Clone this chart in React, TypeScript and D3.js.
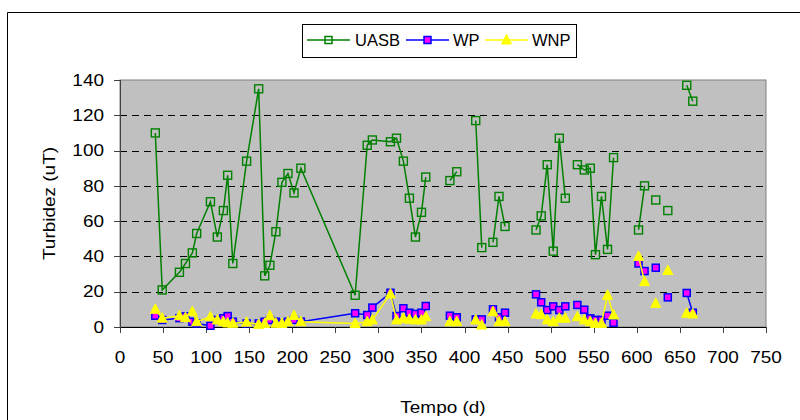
import React from "react";
import * as d3 from "d3";

// Shared day column (null = empty row, breaks the lines)
const days: (number | null)[] = [
  41, 49, 69, 76, 84, 89, 105, 113, 120, 125, 131, 147, 161, 168, 174, 181, 188, 195, 202, 210,
  273, 287, 293, 314, 321, 329, 336, 343, 350, 355, null,
  383, 391, null,
  413, 420, null,
  433, 440, 447, null,
  483, 489, 496, 503, 510, 517, null,
  531, 539, 546, 552, 559, 566, 573, null,
  602, 609, null,
  622, null,
  636, null,
  658, 665,
];

const uasb: (number | null)[] = [
  110, 21, 31, 36, 42, 53, 71, 51, 66, 86, 36, 94, 135, 29, 35, 54, 82, 87, 76, 90,
  18, 103, 106, 105, 107, 94, 73, 51, 65, 85, null,
  83, 88, null,
  117, 45, null,
  48, 74, 57, null,
  55, 63, 92, 43, 107, 73, null,
  92, 89, 90, 41, 74, 44, 96, null,
  55, 80, null,
  72, null,
  66, null,
  137, 128,
];

const wp: (number | null)[] = [
  6.4, 4, 5, 6, 3, 2, 0.7, 4, 5, 6.2, 3, 2, 2, 3, 4, 3, 2, 3, 4, 3,
  7.8, 6.8, 11, 19.4, 6.2, 10.6, 8.1, 7.4, 8.1, 11.9, null,
  6.4, 5.5, null,
  4.3, 4.3, null,
  10, 5.5, 8.1, null,
  18.5, 14, 9.6, 11.7, 9.6, 11.7, null,
  12.5, 9.8, 4.9, 4, 4, 6.4, 2.4, null,
  36, 31.7, null,
  33.6, null,
  16.8, null,
  19.3, 8.1,
];

const wnp: (number | null)[] = [
  10, 5, 6.4, 5.3, 8.7, 3, 5.8, 4, 3, 2.3, 2.1, 2.7, 1.5, 2, 6.4, 2.1, 2, 3, 6.5, 3,
  2, 3, 4, 18.7, 4, 5, 4.4, 4, 4, 5.8, null,
  3, 3, null,
  4, 1.1, null,
  8.7, 3, 3, null,
  7.4, 7, 4, 3, 5, 5, null,
  5.8, 4, 3, 2, 2, 18, 6.8, null,
  40, 25.7, null,
  13.4, null,
  32, null,
  7.8, 7.4,
];

const xTicks = d3.range(0, 751, 50);
const yTicks = d3.range(0, 141, 20);
const seriesNames = ["UASB", "WP", "WNP"];

const W = 800;
const H = 420;
const plot = { left: 120, right: 766, top: 80, bottom: 327 };
const FONT = "Liberation Sans, Arial, sans-serif";
const AX_FS = 16.5;
const STRETCH = 1.15;

type Pt = { x: number | null; y: number | null };

function toPts(vals: (number | null)[]): Pt[] {
  return days.map((d, i) => ({ x: d, y: vals[i] }));
}

export default function App() {
  const x = d3.scaleLinear().domain([0, 750]).range([plot.left, plot.right]);
  const y = d3.scaleLinear().domain([0, 140]).range([plot.bottom, plot.top]);

  const line = d3
    .line<Pt>()
    .defined((p) => p.x != null && p.y != null)
    .x((p) => x(p.x as number))
    .y((p) => y(p.y as number));

  const uPts = toPts(uasb);
  const pPts = toPts(wp);
  const nPts = toPts(wnp);
  const valid = (p: Pt) => p.x != null && p.y != null;

  const tri = (cx: number, cy: number, s: number) =>
    `M${cx},${cy - s * 0.55}L${cx + s / 2},${cy + s * 0.4}L${cx - s / 2},${cy + s * 0.4}Z`;

  const legendY = 40;
  const legendItems = [
    { name: seriesNames[0], x0: 307, text: 355 },
    { name: seriesNames[1], x0: 406, text: 453 },
    { name: seriesNames[2], x0: 485, text: 532 },
  ];

  return (
    <svg
      width={W}
      height={H}
      style={{ position: "absolute", left: 0, top: 0, background: "#fff" }}
      fontFamily={FONT}
    >
      {/* outer frame */}
      <path d={`M7.5,${H}V12.5H${W}`} fill="none" stroke="#000" strokeWidth={1} />

      {/* plot area */}
      <rect
        x={plot.left}
        y={plot.top}
        width={plot.right - plot.left}
        height={plot.bottom - plot.top}
        fill="#C0C0C0"
        stroke="#808080"
        strokeWidth={1}
      />
      {/* gridlines */}
      {yTicks
        .filter((t) => t > 0 && t < 140)
        .map((t) => (
          <line
            key={"g" + t}
            x1={plot.left}
            x2={plot.right}
            y1={Math.round(y(t)) + 0.5}
            y2={Math.round(y(t)) + 0.5}
            stroke="#000"
            strokeWidth={1}
            strokeDasharray="7,5"
          />
        ))}

      {/* axes */}
      <line x1={plot.left + 0.5} x2={plot.left + 0.5} y1={plot.top} y2={plot.bottom} stroke="#404040" strokeWidth={1} />
      <line x1={plot.left} x2={plot.right} y1={plot.bottom + 0.5} y2={plot.bottom + 0.5} stroke="#000" strokeWidth={1.2} />
      {yTicks.map((t) => (
        <g key={"yt" + t}>
          <line
            x1={plot.left - 6}
            x2={plot.left}
            y1={Math.round(y(t)) + 0.5}
            y2={Math.round(y(t)) + 0.5}
            stroke="#404040"
          />
          <text
            transform={`translate(104,${y(t)}) scale(${STRETCH},1)`}
            dy="0.35em"
            textAnchor="end"
            fontSize={AX_FS}
            fill="#000"
          >
            {t}
          </text>
        </g>
      ))}
      {xTicks.map((t) => (
        <g key={"xt" + t}>
          <line
            x1={Math.round(x(t)) + 0.5}
            x2={Math.round(x(t)) + 0.5}
            y1={plot.bottom}
            y2={plot.bottom + 6}
            stroke="#404040"
          />
          <text
            transform={`translate(${x(t)},357) scale(${STRETCH},1)`}
            dy="0.35em"
            textAnchor="middle"
            fontSize={AX_FS}
            fill="#000"
          >
            {t}
          </text>
        </g>
      ))}

      <text
        transform={`translate(49,${(plot.top + plot.bottom) / 2}) rotate(-90) scale(${STRETCH},1)`}
        textAnchor="middle"
        dy="0.35em"
        fontSize={AX_FS}
      >
        Turbidez (uT)
      </text>
      <text
        transform={`translate(443,407) scale(${STRETCH},1)`}
        dy="0.35em"
        textAnchor="middle"
        fontSize={AX_FS}
      >
        Tempo (d)
      </text>

      {/* UASB */}
      <path d={line(uPts) || ""} fill="none" stroke="#008000" strokeWidth={1.5} />
      {uPts.filter(valid).map((p, i) => (
        <rect
          key={"u" + i}
          x={x(p.x as number) - 4}
          y={y(p.y as number) - 4}
          width={8}
          height={8}
          fill="none"
          stroke="#008000"
          strokeWidth={1.4}
        />
      ))}

      {/* WP */}
      <path d={line(pPts) || ""} fill="none" stroke="#0000FF" strokeWidth={1.5} />
      {pPts.filter(valid).map((p, i) => (
        <rect
          key={"p" + i}
          x={x(p.x as number) - 3.5}
          y={y(p.y as number) - 3.5}
          width={7}
          height={7}
          fill="#FF00FF"
          stroke="#0000FF"
          strokeWidth={1.5}
        />
      ))}

      {/* WNP */}
      <path d={line(nPts) || ""} fill="none" stroke="#FFFF00" strokeWidth={1.5} />
      {nPts.filter(valid).map((p, i) => (
        <path key={"n" + i} d={tri(x(p.x as number), y(p.y as number), 10)} fill="#FFFF00" stroke="#FFFF00" strokeWidth={1} />
      ))}

      {/* legend */}
      <rect x={302.5} y={24.5} width={274} height={33} fill="#fff" stroke="#000" strokeWidth={1} />
      {legendItems.map((it, i) => {
        const cx = it.x0 + 21.5;
        return (
          <g key={"l" + i}>
            {i === 0 && (
              <>
                <line x1={it.x0} x2={it.x0 + 43} y1={legendY} y2={legendY} stroke="#008000" strokeWidth={1.5} />
                <rect x={cx - 3.5} y={legendY - 3.5} width={7} height={7} fill="none" stroke="#008000" strokeWidth={1.5} />
              </>
            )}
            {i === 1 && (
              <>
                <line x1={it.x0} x2={it.x0 + 43} y1={legendY} y2={legendY} stroke="#0000FF" strokeWidth={1.5} />
                <rect x={cx - 3.5} y={legendY - 3.5} width={7} height={7} fill="#FF00FF" stroke="#0000FF" strokeWidth={1.5} />
              </>
            )}
            {i === 2 && (
              <>
                <line x1={it.x0} x2={it.x0 + 43} y1={legendY} y2={legendY} stroke="#FFFF00" strokeWidth={1.5} />
                <path d={tri(cx, legendY, 10)} fill="#FFFF00" stroke="#FFFF00" />
              </>
            )}
            <text x={it.text} y={legendY} dy="0.35em" fontSize={16.5}>
              {it.name}
            </text>
          </g>
        );
      })}
    </svg>
  );
}
